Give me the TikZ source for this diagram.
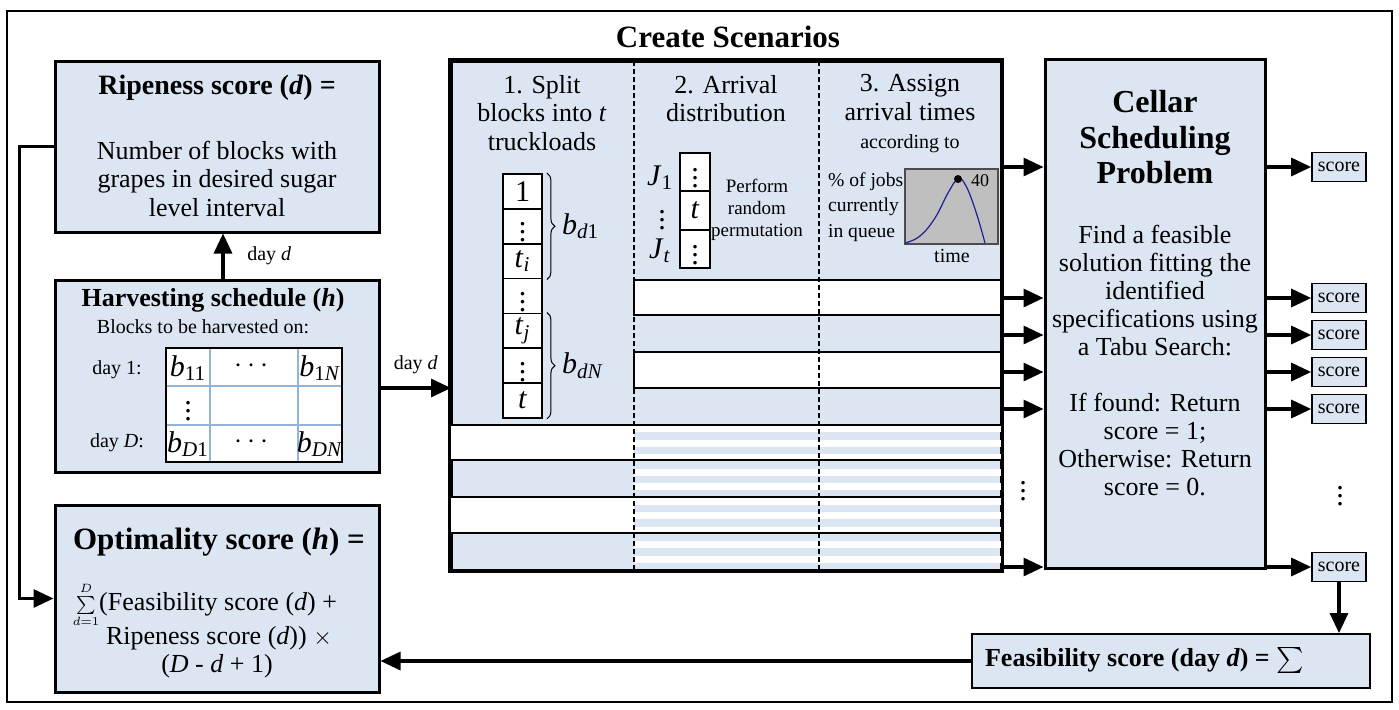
\documentclass[tikz,border=0pt]{standalone}
\usepackage{amsmath,amssymb}
\usepackage{fontspec}
\setmainfont{Liberation Serif}
\usetikzlibrary{arrows.meta,positioning,decorations.pathreplacing}
\definecolor{cellblue}{RGB}{220,230,242}
\definecolor{gridblue}{RGB}{149,179,215}
\definecolor{curveblue}{RGB}{30,30,150}
\newcommand{\vsub}[2]{\textit{#1}\textsubscript{#2}}

\begin{document}
\begin{tikzpicture}[
    x=0.5pt, y=-0.5pt,
    box/.style={draw, line width=1.5pt, fill=cellblue, inner sep=0pt},
    scorebox/.style={draw, line width=0.8pt, fill=cellblue, minimum width=27pt, minimum height=14.5pt, inner sep=0pt, font=\fontsize{10}{12}\selectfont},
    cell/.style={draw, line width=0.9pt, fill=white, minimum width=19.5pt, minimum height=17.43pt, inner sep=0pt, font=\fontsize{15}{16}\selectfont},
    line/.style={-{Triangle[length=10pt,width=9pt]}, line width=1.6pt},
    body/.style={align=center, font=\fontsize{13}{14.25}\selectfont},
    head/.style={align=center, font=\fontsize{14}{16}\selectfont\bfseries},
    smalltxt/.style={font=\fontsize{10}{12}\selectfont},
    mathtxt/.style={font=\fontsize{15}{16}\selectfont},
    rowline/.style={line width=1pt},
    divider/.style={line width=1pt, dash pattern=on 2.5pt off 1.5pt},
    curly/.style={decorate, decoration={brace, amplitude=4pt}, line width=0.5pt}
]
\useasboundingbox (0,0) rectangle (1399,709);
\draw[line width=1pt] (7,11) rectangle (1392,702);

\node[box, minimum width=162pt, minimum height=85.5pt] (ripe) at (217,146.5) {};
\node[head] (ripeT) at (217,88) {Ripeness score (\textit{d}) =};
\node[body] (ripeB) at (217,178.5) {Number of blocks with\\grapes in desired sugar\\level interval};

\node[box, minimum width=162pt, minimum height=96pt] (harvest) at (217,376) {};
\node[head, font=\fontsize{13}{15}\selectfont\bfseries] (harvT) at (213,300) {Harvesting schedule (\textit{h})};
\node[smalltxt] (harvB) at (203,327) {Blocks to be harvested on:};
\fill[white] (166,348) rectangle (342,462);
\draw[gridblue, line width=0.8pt] (210,348) -- (210,462) (298,348) -- (298,462)
    (166,386) -- (342,386) (166,425) -- (342,425);
\draw[line width=0.8pt] (166,348) rectangle (342,462);
\node[mathtxt] (b11) at (188,368) {\vsub{b}{11}};
\node[mathtxt] (b1c) at (254,366) {$\cdots$};
\node[mathtxt] (b1N) at (320,368) {\vsub{b}{1\textit{N}}};
\node[mathtxt] (bv) at (188,405) {\vdots};
\node[mathtxt] (bD1) at (188,444) {\vsub{b}{\textit{D}1}};
\node[mathtxt] (bDc) at (254,442) {$\cdots$};
\node[mathtxt] (bDN) at (320,444) {\vsub{b}{\textit{DN}}};
\node[smalltxt] (day1) at (117,370) {day 1:};
\node[smalltxt] (dayD) at (117,443) {day \textit{D}:};

\node[box, minimum width=162pt, minimum height=93.5pt] (optim) at (217,598.5) {};
\node[head, font=\fontsize{15.5}{18}\selectfont\bfseries] (optT) at (219,542) {Optimality score (\textit{h}) =};
\node[body, anchor=base] (opt1) at (205,610) {{\fontsize{9}{10}\selectfont$\sum\limits_{d=1}^{D}$}(Feasibility score (\textit{d}) +};
\node[body] (opt2) at (219,638) {Ripeness score (\textit{d})) $\times$};
\node[body] (opt3) at (217,666) {(\textit{D} - \textit{d} + 1)};

\node[head, font=\fontsize{15.5}{18}\selectfont\bfseries] (createT) at (728,37) {Create Scenarios};
\node[box, minimum width=275pt, minimum height=254.5pt] (create) at (726,315.5) {};
\foreach \i in {0,2,...,18}
    \fill[white] (634,{425+\i*7.25}) rectangle (1001,{432.25+\i*7.25});
\fill[white] (451,425) rectangle (634,460);
\fill[white] (451,497) rectangle (634,533);
\draw[rowline, fill=white] (634,280) rectangle (1001,315);
\draw[rowline, fill=white] (634,352) rectangle (1001,388);
\foreach \yy in {425,460,497,533}
    \draw[rowline] (451,\yy) -- (1001,\yy);
\draw[divider] (634,61) -- (634,570);
\draw[divider] (819,61) -- (819,570);
\draw[line width=1.5pt] (create.north west) rectangle (create.south east);

\node[body] (colA) at (542,113) {1. Split\\blocks into \textit{t}\\truckloads};
\node[body] (colB) at (726,98.5) {2. Arrival\\distribution};
\node[body] (colC) at (910,97.5) {3. Assign\\arrival times};
\node[smalltxt] (colCsub) at (910,144) {according to};

\foreach \lab [count=\k from 0] in {1,\vdots,{\vsub{t}{\textit{i}}},\vdots,{\vsub{t}{\textit{j}}},\vdots,\textit{t}}
    \node[cell] (tk\k) at (522.5,{191.4+34.857*\k}) {\lab};
\draw[curly] ([xshift=2pt]tk0.north east) -- ([xshift=2pt]tk2.south east)
    node[midway, right=4pt, mathtxt] (bd1) {\vsub{b}{\textit{d}1}};
\draw[curly] ([xshift=2pt]tk4.north east) -- ([xshift=2pt]tk6.south east)
    node[midway, right=4pt, mathtxt] (bdN) {\vsub{b}{\textit{dN}}};

\foreach \lab [count=\k from 0] in {\vdots,\textit{t},\vdots}
    \node[cell, minimum width=15pt, minimum height=19.15pt] (jb\k) at (695,{172.2+38.3*\k}) {\lab};
\node[mathtxt] (j1) at (660,178) {\vsub{J}{1}};
\node[mathtxt] (jv) at (662,214) {\vdots};
\node[mathtxt] (jt) at (660,251) {\vsub{J}{\textit{t}}};
\node[align=center, font=\fontsize{9.5}{11}\selectfont] (perm) at (757,210) {Perform\\random\\permutation};

\node[anchor=west, align=left, font=\fontsize{9.8}{12.75}\selectfont] (jobs) at (821,207) {\% of jobs\\currently\\in queue};
\node[draw=gray!60!black, fill=gray!50, line width=0.6pt, minimum width=46.5pt, minimum height=37.5pt, inner sep=0pt] (graph) at (951.5,206.5) {};
\draw[curveblue, line width=0.6pt] plot[smooth, tension=0.7] coordinates
    {(905,243) (920,236) (935,218) (948,193) (958,179) (966,186) (976,212) (985,243)};
\fill (958,179) circle (2pt);
\node[font=\fontsize{9}{10}\selectfont] (peak) at (980,181) {40};
\node[smalltxt] (timelbl) at (952,256) {time};

\node[box, minimum width=110pt, minimum height=254.5pt] (cellar) at (1155,313.5) {};
\node[head, font=\fontsize{16}{17.75}\selectfont\bfseries] (cellT) at (1155,137.5) {Cellar\\Scheduling\\Problem};
\node[body, font=\fontsize{13}{14}\selectfont] (cellB) at (1155,361) {Find a feasible\\solution fitting the\\identified\\specifications using\\a Tabu Search:\\[14pt]If found: Return\\score = 1;\\Otherwise: Return\\score = 0.};

\foreach \yy [count=\k] in {167,298,335,372,409,567}
    \node[scorebox] (s\k) at (1339,\yy) {score};
\foreach \k in {1,...,6} {
    \draw[line] (create.east |- s\k) -- (cellar.west |- s\k);
    \draw[line] (cellar.east |- s\k) -- (s\k);
}
\node[mathtxt] (dotsL) at (1023,485) {\vdots};
\node[mathtxt] (dotsR) at (1340,490) {\vdots};

\node[box, line width=0.9pt, minimum width=199pt, minimum height=27pt] (feas) at (1171,661) {};
\node[anchor=west, font=\fontsize{13}{15}\selectfont\bfseries] (feasT) at (978,660) {Feasibility score (day \textit{d}) = $\sum$};

\coordinate (hin) at (451,388);
\draw[line] ([xshift=3pt]harvest.north) -- ([xshift=3pt]ripe.south)
    node[midway, right=8pt, smalltxt] (dayA) {day \textit{d}};
\draw[line] (harvest.east |- hin) -- (hin)
    node[midway, above=3pt, smalltxt] (dayB) {day \textit{d}};
\draw[line] (ripe.west) -- ++(-34,0) |- (optim.west);
\draw[line] (s6.south) -- (s6.south |- feas.north);
\draw[line] (feas.west) -- (optim.east |- feas.west);
\end{tikzpicture}
\end{document}
